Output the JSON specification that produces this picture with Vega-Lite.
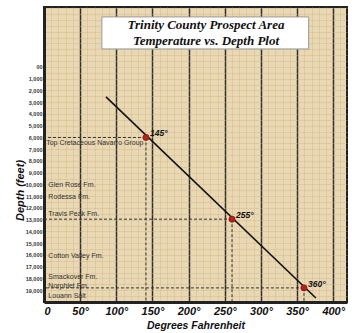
{
  "$schema": "https://vega.github.io/schema/vega-lite/v6.json",
  "width": 303,
  "height": 295,
  "autosize": "none",
  "padding": {"left": 44, "top": 7, "right": 11, "bottom": 31},
  "background": "white",
  "config": {
    "view": {"fill": "#e8d8b4", "stroke": "#222222", "strokeWidth": 2}
  },
  "datasets": {
    "points": [
      {"temp": 141, "depth": 6000, "label": "145°"},
      {"temp": 260, "depth": 12950, "label": "255°"},
      {"temp": 359.5, "depth": 18800, "label": "360°"}
    ],
    "trend": [
      {"temp": 85.7, "depth": 2550},
      {"temp": 376, "depth": 19660}
    ],
    "formations": [
      {"temp": 3, "depth": 6470, "name": "Top Cretaceous Navarro  Group"},
      {"temp": 6, "depth": 10040, "name": "Glen Rose Fm."},
      {"temp": 6, "depth": 11060, "name": "Rodessa Fm."},
      {"temp": 6, "depth": 12510, "name": "Travis Peak Fm."},
      {"temp": 6, "depth": 16080, "name": "Cotton Valley Fm."},
      {"temp": 6, "depth": 17870, "name": "Smackover Fm."},
      {"temp": 6, "depth": 18640, "name": "Norphlet Fm."},
      {"temp": 6, "depth": 19490, "name": "Louann Salt"}
    ],
    "titlebox": [
      {"x1": 80, "x2": 366, "y1": -4255, "y2": -1532}
    ],
    "titletext": [
      {"temp": 224, "depth": -3574, "text": "Trinity County Prospect Area"},
      {"temp": 224, "depth": -2213, "text": "Temperature vs. Depth Plot"}
    ]
  },
  "layer": [
    {
      "data": {"name": "formations"},
      "mark": {"type": "text", "align": "left", "baseline": "middle", "font": "Liberation Sans", "fontSize": 7, "color": "#333333"},
      "encoding": {
        "x": {
          "field": "temp", "type": "quantitative",
          "scale": {"domain": [0, 419], "nice": false, "zero": false},
          "axis": {
            "orient": "bottom", "tickCount": 200,
            "values": [0,10,20,30,40,50,60,70,80,90,100,110,120,130,140,150,160,170,180,190,200,210,220,230,240,250,260,270,280,290,300,310,320,330,340,350,360,370,380,390,400,410],
            "labelExpr": "datum.value == 0 ? '0' : (datum.value % 50 == 0 ? datum.label + '°' : '')",
            "labelFont": "Liberation Sans", "labelFontSize": 11, "labelFontWeight": "bold", "labelFontStyle": "italic",
            "labelColor": "#111111", "labelPadding": 3, "labelBaseline": "top", "labelOverlap": false,
            "ticks": false, "domain": true, "domainColor": "#222222", "domainWidth": 3,
            "grid": true,
            "gridColor": {"condition": {"test": "datum.value % 50 == 0", "value": "#332e29"}, "value": "#d6b581"},
            "gridWidth": {"condition": {"test": "datum.value % 50 == 0", "value": 1.5}, "value": 0.7},
            "gridOpacity": {"condition": {"test": "datum.value % 50 == 0", "value": 1}, "value": 0.6},
            "title": "Degrees Fahrenheit", "titleFont": "Liberation Sans", "titleFontSize": 10.5,
            "titleFontWeight": "bold", "titleFontStyle": "italic", "titleColor": "#111111", "titlePadding": 4
          }
        },
        "y": {
          "field": "depth", "type": "quantitative",
          "scale": {"domain": [-5100, 20000], "nice": false, "zero": false, "reverse": true},
          "axis": {
            "orient": "left", "tickCount": 200,
            "values": [-5000,-4500,-4000,-3500,-3000,-2500,-2000,-1500,-1000,-500,0,500,1000,1500,2000,2500,3000,3500,4000,4500,5000,5500,6000,6500,7000,7500,8000,8500,9000,9500,10000,10500,11000,11500,12000,12500,13000,13500,14000,14500,15000,15500,16000,16500,17000,17500,18000,18500,19000,19500],
            "labelExpr": "datum.value == 0 ? '00' : (datum.value > 0 && datum.value % 1000 == 0 ? format(datum.value, ',') : '')",
            "labelFont": "Liberation Sans", "labelFontSize": 5.5, "labelFontWeight": "bold", "labelColor": "#333333",
            "labelPadding": 2, "labelOverlap": false,
            "ticks": false, "domain": true, "domainColor": "#222222", "domainWidth": 3,
            "grid": true, "gridColor": "#d6b581", "gridWidth": 0.7, "gridOpacity": 0.6,
            "title": "Depth (feet)", "titleFont": "Liberation Sans", "titleFontSize": 11,
            "titleFontWeight": "bold", "titleFontStyle": "italic", "titleColor": "#111111",
            "titleX": -24, "titleY": 183, "titleAlign": "center", "titleBaseline": "middle", "titleAngle": -90
          }
        },
        "text": {"field": "name"}
      }
    },
    {
      "data": {"name": "titlebox"},
      "mark": {"type": "rect", "fill": "white", "stroke": "#9a9a9a", "strokeWidth": 1},
      "encoding": {
        "x": {"field": "x1", "type": "quantitative"},
        "x2": {"field": "x2"},
        "y": {"field": "y1", "type": "quantitative"},
        "y2": {"field": "y2"}
      }
    },
    {
      "data": {"name": "points"},
      "mark": {"type": "rule", "color": "#333333", "strokeDash": [3, 2], "strokeWidth": 1},
      "encoding": {
        "x": {"field": "temp", "type": "quantitative"},
        "x2": {"datum": 0},
        "y": {"field": "depth", "type": "quantitative"}
      }
    },
    {
      "data": {"name": "points"},
      "mark": {"type": "rule", "color": "#333333", "strokeDash": [3, 2], "strokeWidth": 1},
      "encoding": {
        "x": {"field": "temp", "type": "quantitative"},
        "y": {"field": "depth", "type": "quantitative"},
        "y2": {"datum": 20000}
      }
    },
    {
      "data": {"name": "trend"},
      "mark": {"type": "line", "color": "#111111", "strokeWidth": 1.6},
      "encoding": {
        "x": {"field": "temp", "type": "quantitative"},
        "y": {"field": "depth", "type": "quantitative"}
      }
    },
    {
      "data": {"name": "points"},
      "mark": {"type": "circle", "color": "#b3211b", "size": 40, "opacity": 1, "stroke": "#6a1010", "strokeWidth": 0.5},
      "encoding": {
        "x": {"field": "temp", "type": "quantitative"},
        "y": {"field": "depth", "type": "quantitative"}
      }
    },
    {
      "data": {"name": "points"},
      "mark": {"type": "text", "align": "left", "baseline": "middle", "dx": 4, "dy": -4, "font": "Liberation Sans", "fontSize": 8.5, "fontWeight": "bold", "fontStyle": "italic", "color": "#111111"},
      "encoding": {
        "x": {"field": "temp", "type": "quantitative"},
        "y": {"field": "depth", "type": "quantitative"},
        "text": {"field": "label"}
      }
    },
    {
      "data": {"name": "titletext"},
      "mark": {"type": "text", "align": "center", "baseline": "middle", "font": "Liberation Serif", "fontSize": 13, "fontWeight": "bold", "fontStyle": "italic", "color": "#111111"},
      "encoding": {
        "x": {"field": "temp", "type": "quantitative"},
        "y": {"field": "depth", "type": "quantitative"},
        "text": {"field": "text"}
      }
    }
  ]
}
